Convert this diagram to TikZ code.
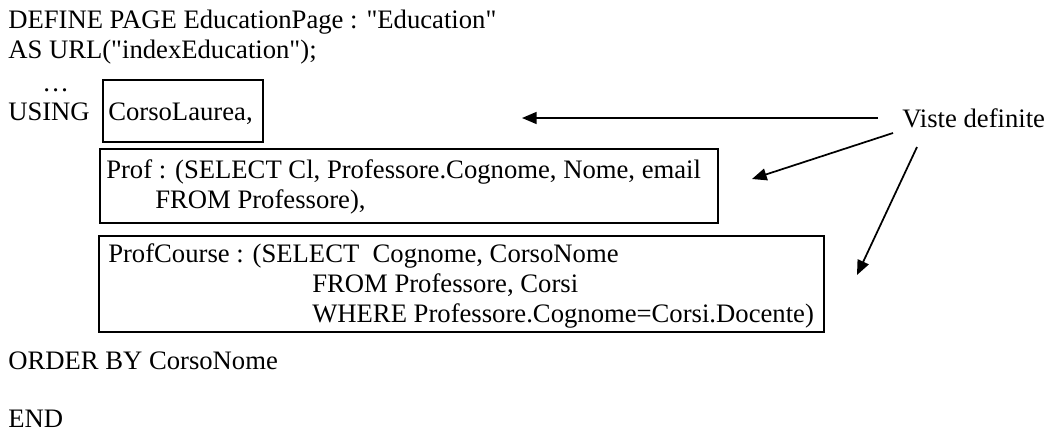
\documentclass[tikz,border=0pt]{standalone}
\usepackage{fontspec}
% plain family: no TeX ligatures, so straight quotes stay straight
\newfontfamily\codefont{Liberation Serif}
\usetikzlibrary{arrows.meta}
\begin{document}
\begin{tikzpicture}[x=0.75pt,y=-0.75pt,
  code/.style={anchor=base west, inner sep=0pt, font=\codefont\fontsize{20}{24}\selectfont},
  viewbox/.style={draw, line width=1.3pt, anchor=north west, inner sep=0pt},
  pointer/.style={line width=1.3pt, -{Triangle[length=11pt,width=9pt]}}]
\useasboundingbox (0,0) rectangle (1049,433);

% boxes around the view definitions
\node[viewbox, minimum width=120pt, minimum height=46.5pt] (boxCorso) at (102,79) {};
\node[viewbox, minimum width=463.5pt, minimum height=55.5pt] (boxProf) at (99,148) {};
\node[viewbox, minimum width=543.75pt, minimum height=72pt] (boxCourse) at (98,235) {};

% page definition text
\node[code] (l1) at (8,28) {DEFINE PAGE EducationPage : "Education"};
\node[code] (l2) at (8,58) {AS URL("indexEducation");};
\node[code] (dots) at (42,91) {…};
\node[code] (using) at (8,120) {USING};
\node[code] (corso) at (108,120) {CorsoLaurea,};
\node[code] (prof1) at (106,178) {Prof : (SELECT Cl, Professore.Cognome, Nome, email};
\node[code] (prof2) at (155,208) {FROM Professore),};
\node[code] (pc1) at (108,262) {ProfCourse : (SELECT\ \ Cognome, CorsoNome};
\node[code] (pc2) at (312,292) {FROM Professore, Corsi};
\node[code] (pc3) at (312,322) {WHERE Professore.Cognome=Corsi.Docente)};
\node[code] (order) at (8,369) {ORDER BY CorsoNome};
\node[code] (endkw) at (8,427) {END};

% annotation and its pointers
\node[code] (viste) at (902,127) {Viste definite};
\coordinate (srcA) at (878,118);
\coordinate (tipA) at (522,118);
\coordinate (srcB) at (893,133);
\coordinate (tipB) at (752,179);
\coordinate (srcC) at (917,147);
\coordinate (tipC) at (857,275);
\draw[pointer] (srcA) -- (tipA);
\draw[pointer] (srcB) -- (tipB);
\draw[pointer] (srcC) -- (tipC);
\end{tikzpicture}
\end{document}
